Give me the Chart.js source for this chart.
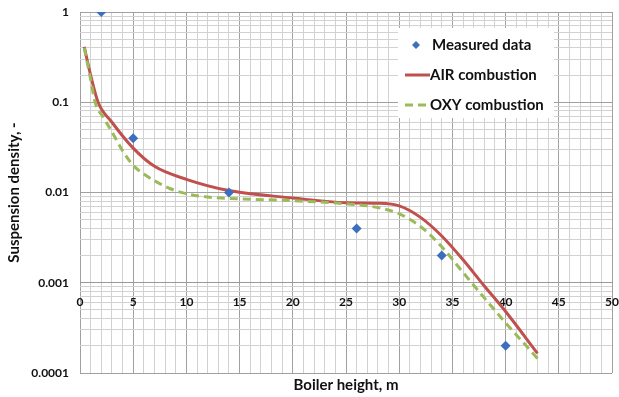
<!DOCTYPE html>
<html>
<head>
<meta charset="utf-8">
<script src="https://cdn.jsdelivr.net/npm/chart.js@4"></script>
<style>
html,body{margin:0;padding:0;background:#fff;}
#wrap{width:619px;height:397px;position:relative;}
</style>
</head>
<body>
<div id="wrap"><canvas id="chart"></canvas></div>
<script>
// measured points
const measuredX=[2,5,14,26,34,40];
const measuredY=[1,0.04,0.01,0.004,0.002,0.0002];
// model curves
const airX=[0.4,1,1.7,3,5,7,10,14,20,25,28,30,32,34,36,38,40,43];
const airY=[0.41,0.2,0.1,0.06,0.031,0.0195,0.014,0.0105,0.0087,0.0077,0.0076,0.0071,0.0053,0.0033,0.0018,0.00092,0.00048,0.000165];
const oxyX=[0.4,1,1.42,2.2,3,4,5,6,7,8.5,10,12,14,20,25,28,30,32,34,36,38,40,43];
const oxyY=[0.4,0.18,0.1,0.068,0.047,0.029,0.02,0.016,0.0135,0.011,0.0097,0.0089,0.0086,0.0081,0.0075,0.0068,0.0058,0.0042,0.0025,0.0013,0.00068,0.00036,0.000145];
const xTickLabels=[0,5,10,15,20,25,30,35,40,45,50];
const yTickLabels=[0.0001,0.001,0.01,0.1,1];

const pts=(xs,ys)=>xs.map((x,i)=>({x,y:ys[i]}));
const FONT='Lato';

// log grid: 1..9 in every decade
const yGrid=[];
yTickLabels.forEach((d,i)=>{
 if(i===yTickLabels.length-1){yGrid.push(d);return;}
 for(let m=1;m<10;m++) yGrid.push(+(d*m).toPrecision(3));
});
const xGrid=[];
for(let v=0;v<=50;v++) xGrid.push(v);

const isDecade=v=>yTickLabels.some(d=>Math.abs(d-v)/d<1e-6);

const legendBox={
 id:'legendBox',
 afterDatasetsDraw(chart){
  const c=chart.ctx;
  const ds=chart.data.datasets;
  const x0=398,y0=28,w=156,h=90;
  c.save();
  c.fillStyle='#fff';
  c.fillRect(x0,y0,w,h);
  c.font='bold 15px '+FONT;
  c.textBaseline='middle';
  ds.forEach((d,i)=>{
   const y=y0+17+i*30;
   if(i===0){
    c.fillStyle=d.backgroundColor;
    c.beginPath();
    c.moveTo(416,y-4);c.lineTo(420,y);c.lineTo(416,y+4);c.lineTo(412,y);
    c.closePath();c.fill();
   }else{
    c.strokeStyle=d.borderColor;
    c.lineWidth=3;
    c.setLineDash(d.borderDash||[]);
    c.beginPath();c.moveTo(405,y);c.lineTo(430,y);c.stroke();
    c.setLineDash([]);
   }
   c.fillStyle='#111';
   c.fillText(d.label,i===0?432:430,y);
  });
  c.restore();
 }
};

new Chart(document.getElementById('chart'),{
 type:'scatter',
 data:{datasets:[
  {label:'Measured data',data:pts(measuredX,measuredY),pointStyle:'rectRot',pointRadius:5,
   backgroundColor:'#3d6fbe',borderColor:'#3d6fbe',borderWidth:0,showLine:false,order:0},
  {label:'AIR combustion',data:pts(airX,airY),showLine:true,borderColor:'#c0504d',backgroundColor:'#c0504d',
   borderWidth:3,pointRadius:0,cubicInterpolationMode:'monotone',order:2},
  {label:'OXY combustion',data:pts(oxyX,oxyY),showLine:true,borderColor:'#9bbb59',backgroundColor:'#9bbb59',
   borderWidth:3,borderDash:[8,5],pointRadius:0,cubicInterpolationMode:'monotone',order:1}
 ]},
 options:{
  responsive:true,maintainAspectRatio:false,animation:false,
  layout:{padding:{left:0,right:7,top:0,bottom:0}},
  plugins:{legend:{display:false},tooltip:{enabled:false}},
  scales:{
   x:{type:'linear',min:0,max:50,
    afterBuildTicks:s=>{s.ticks=xGrid.map(v=>({value:v}));},
    afterFit:s=>{s.height=24;},
    ticks:{display:false},
    grid:{drawTicks:false,lineWidth:1,color:c=>c.tick&&c.tick.value%5===0?'#a0a0a0':'#d2d2d2'},
    border:{display:false},
    title:{display:true,text:'Boiler height, m',color:'#111',font:{family:FONT,size:15,weight:'bold'},padding:{top:0,bottom:3}}
   },
   x2:{type:'linear',min:0,max:50,position:{y:0.001},
    afterBuildTicks:s=>{s.ticks=xTickLabels.map(v=>({value:v}));},
    afterFit:s=>{s.paddingLeft=0;s.paddingRight=0;},
    ticks:{color:'#111',font:{family:FONT,size:12,weight:'bold'},padding:12,maxRotation:0},
    grid:{display:false,drawTicks:false},
    border:{display:true,color:'#999',width:1}
   },
   y:{type:'logarithmic',min:0.0001,max:1,
    afterBuildTicks:s=>{s.ticks=yGrid.map(v=>({value:v}));},
    afterFit:s=>{s.width=80;s.paddingTop=12;s.paddingBottom=0;},
    ticks:{color:'#111',font:{family:FONT,size:12,weight:'bold'},padding:11,autoSkip:false,
     callback:v=>isDecade(v)?String(+v.toPrecision(1)):''},
    grid:{drawTicks:false,lineWidth:1,color:c=>c.tick&&isDecade(c.tick.value)?'#a0a0a0':'#d2d2d2'},
    border:{display:false},
    title:{display:true,text:'Suspension density, -',color:'#111',font:{family:FONT,size:15,weight:'bold'},padding:{top:5,bottom:0}}
   }
  }
 },
 plugins:[legendBox]
});
</script>
</body>
</html>
